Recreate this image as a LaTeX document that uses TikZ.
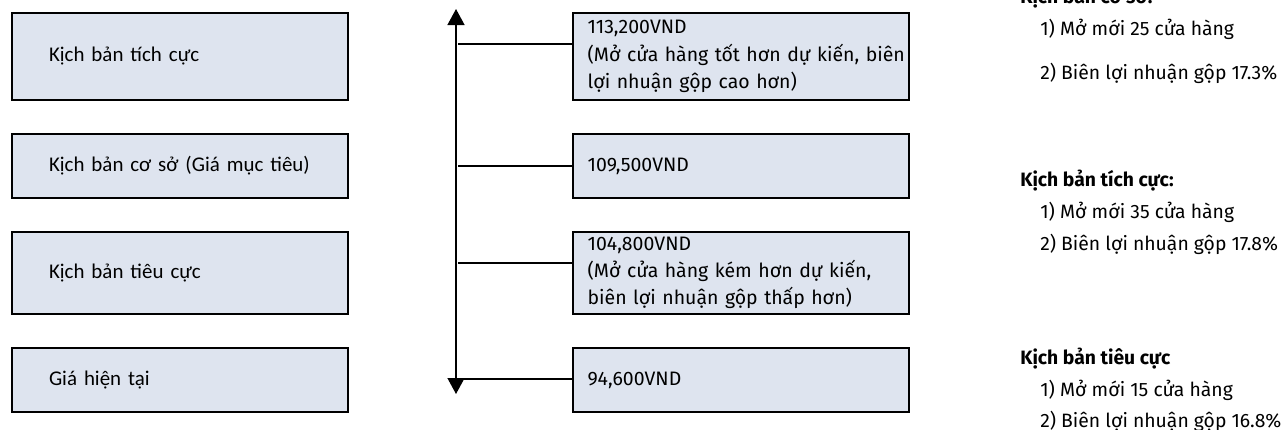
\documentclass[tikz,border=0pt]{standalone}
\usepackage{fontspec}
\setmainfont{Fira Sans}
\newfontfamily\calfont{Carlito}
\usetikzlibrary{positioning}
\usetikzlibrary{arrows.meta}
\definecolor{boxfill}{RGB}{222,228,239}
\hyphenpenalty=10000

\begin{document}
\begin{tikzpicture}[x=0.75pt,y=-0.75pt,node distance=24pt and 167.25pt,
  casebox/.style={rectangle,draw,line width=1.5pt,fill=boxfill,inner xsep=27.75pt,text width=196.5pt,align=left,font=\calfont\fontsize{15.7}{20}\selectfont},
  pricebox/.style={rectangle,draw,line width=1.5pt,fill=boxfill,inner xsep=11pt,inner ysep=1pt,text width=230pt,align=left,font=\fontsize{14.6}{20.5}\selectfont},
  note/.style={anchor=base west,inner sep=0pt,font=\fontsize{14.5}{18}\selectfont},
  link/.style={line width=1.5pt}]
\clip (0,0) rectangle (1287,429);

% scenarios on the left
\node[casebox,minimum height=65.25pt,anchor=north west] (sca) at (11,12) {Kịch bản tích cực};
\node[casebox,minimum height=48pt,below=of sca] (scb) {Kịch bản cơ sở (Giá mục tiêu)};
\node[casebox,minimum height=61.5pt,below=of scb] (scc) {Kịch bản tiêu cực};
\node[casebox,minimum height=48pt,below=of scc] (scd) {Giá hiện tại};

% prices
\node[pricebox,minimum height=65.25pt,right=of sca] (pra) {113,200VND\\\makebox[\hsize][s]{(Mở cửa hàng tốt hơn dự kiến, biên}\\lợi nhuận gộp cao hơn)};
\node[pricebox,minimum height=48pt,right=of scb] (prb) {109,500VND};
\node[pricebox,minimum height=61.5pt,right=of scc] (prc) {104,800VND\\\makebox[\hsize][s]{(Mở cửa hàng kém hơn dự kiến,}\\biên lợi nhuận gộp thấp hơn)};
\node[pricebox,minimum height=48pt,right=of scd] (prd) {94,600VND};

% price axis
\coordinate (axtop) at (456,9);
\coordinate (axbot) at (456,394);
\coordinate (axis) at (458,0);
\draw[{Triangle[width=12.75pt,length=12pt]}-{Triangle[width=12.75pt,length=12pt]},line width=1pt] (axtop) -- (axbot);

\draw[link] ([yshift=9.4pt]pra.west) -- ([yshift=9.4pt]pra.west -| axis);
\draw[link] (prb.west) -- (prb.west -| axis);
\draw[link] ([yshift=7.5pt]prc.west) -- ([yshift=7.5pt]prc.west -| axis);
\draw[link] ([yshift=0.75pt]prd.west) -- ([yshift=0.75pt]prd.west -| axis);

% assumptions
\node[note] (nta) at (1020,3) {\textbf{Kịch bản cơ sở:}};
\node[note] (ntb) at (1040,35) {1) Mở mới 25 cửa hàng};
\node[note] (ntc) at (1040,79) {2) Biên lợi nhuận gộp 17.3\%};
\node[note] (ntd) at (1020,186) {\textbf{Kịch bản tích cực:}};
\node[note] (nte) at (1040,218) {1) Mở mới 35 cửa hàng};
\node[note] (ntf) at (1040,250) {2) Biên lợi nhuận gộp 17.8\%};
\node[note] (ntg) at (1020,364) {\textbf{Kịch bản tiêu cực}};
\node[note] (nth) at (1040,396) {1) Mở mới 15 cửa hàng};
\node[note] (nti) at (1040,427) {2) Biên lợi nhuận gộp 16.8\%};
\end{tikzpicture}
\end{document}
